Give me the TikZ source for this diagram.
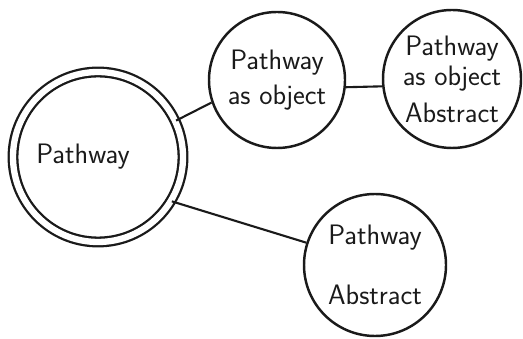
\documentclass[tikz,border=0pt]{standalone}
\usetikzlibrary{positioning}
\definecolor{sketchink}{HTML}{1A1A1A}
\tikzset{
  every picture/.style={font=\sffamily\fontsize{16}{20}\selectfont,text=sketchink},
  bubble/.style={circle,draw=sketchink,fill=white,line width=1.4pt,
    inner sep=0pt,align=center},
  hub/.style={bubble,double=white,double distance=3.6pt,line width=1.3pt},
  link/.style={draw=sketchink,line width=1.2pt},
}
\begin{document}
\begin{tikzpicture}[x=1cm,y=1cm]
  \path[use as bounding box] (0,0) rectangle (10.46,6.76);
  \node[hub,minimum size=3.4cm] (pathway) at (1.96,3.62) {Pathway\hspace*{0.6cm}};
  \node[bubble,minimum size=2.72cm] (asobject) at (5.54,5.16) {Pathway\\as object};
  \node[bubble,minimum size=2.76cm] (objabstract) at (9.04,5.18)
    {Pathway\\[-3pt]as object\\[1pt]Abstract};
  \node[bubble,minimum size=2.84cm] (abstract) at (7.5,1.46) {Pathway\\[14pt]Abstract};
  % Connectors leave the rims at the angles of the sketch, not at the centres.
  \draw[link] (pathway.25) -- (asobject.199);
  \draw[link] (asobject.-6) -- (objabstract.186);
  \draw[link] (pathway.-31) -- (abstract.162);
\end{tikzpicture}
\end{document}
